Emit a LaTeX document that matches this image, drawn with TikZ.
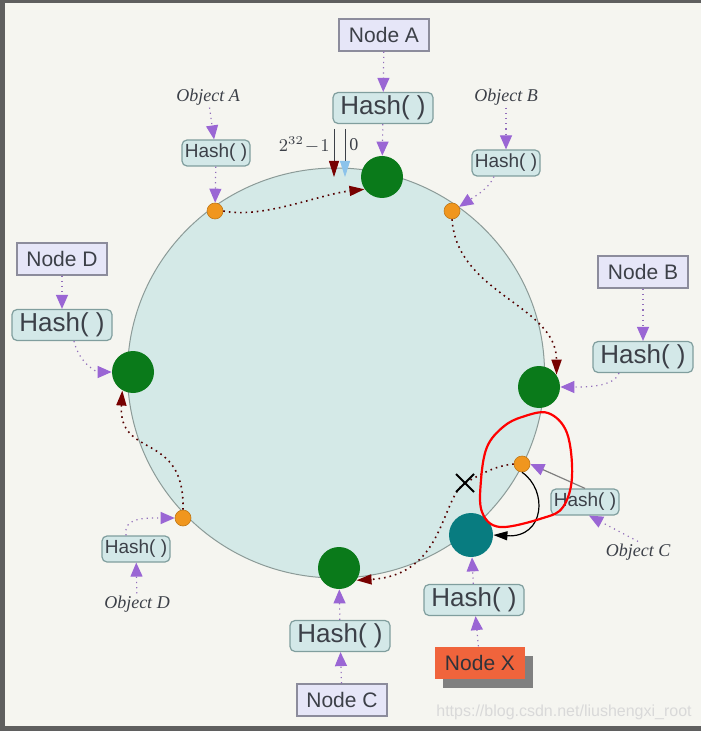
\documentclass[tikz,border=0pt]{standalone}
\usepackage{fontspec}
\setmainfont{Liberation Sans}
\newfontfamily\objfont{Liberation Serif}
\usetikzlibrary{arrows.meta, positioning, shadows, shapes.geometric}
\definecolor{bgpaper}{RGB}{245,245,240}
\definecolor{frameGray}{RGB}{95,95,95}
\definecolor{ringfill}{RGB}{212,233,231}
\definecolor{ringdraw}{RGB}{140,155,152}
\definecolor{nodefill}{RGB}{230,230,248}
\definecolor{nodedraw}{RGB}{140,140,156}
\definecolor{hashfill}{RGB}{211,232,232}
\definecolor{hashdraw}{RGB}{128,158,158}
\definecolor{textgray}{RGB}{60,64,72}
\definecolor{peergreen}{RGB}{10,122,26}
\definecolor{newteal}{RGB}{8,124,128}
\definecolor{objorange}{RGB}{240,150,30}
\definecolor{arrowpurple}{RGB}{154,102,212}
\definecolor{ringred}{RGB}{120,0,0}
\definecolor{nodexred}{RGB}{240,100,60}
\definecolor{zeroblue}{RGB}{140,195,235}

\begin{document}
\begin{tikzpicture}[x=0.5pt, y=-0.5pt,
		nodebox/.style={draw=nodedraw, fill=nodefill, line width=0.6pt, text=textgray,
			font=\fontsize{10.5}{12}\selectfont, minimum width=45pt, minimum height=16pt, inner sep=0pt},
		hashbig/.style={draw=hashdraw, fill=hashfill, rounded corners=2.5pt, line width=0.6pt,
			text=textgray, font=\fontsize{13}{15}\selectfont, minimum width=50pt,
			minimum height=15.5pt, inner sep=0pt},
		hashsmall/.style={hashbig, font=\fontsize{9.5}{11}\selectfont, minimum width=34pt,
			minimum height=13pt},
		objlabel/.style={font=\objfont\itshape\fontsize{9}{11}\selectfont, text=textgray, inner sep=1pt},
		peer/.style={circle, fill=peergreen, minimum size=21pt, inner sep=0pt},
		key/.style={circle, fill=objorange, draw=objorange!80!black, line width=0.3pt,
			minimum size=8pt, inner sep=0pt},
		hasharrow/.style={-{Triangle[length=7pt, width=6pt, color=arrowpurple]},
			draw=arrowpurple!70!gray, dotted, line width=0.6pt},
		hashsolid/.style={-{Triangle[length=7pt, width=6pt, color=arrowpurple]},
			draw=gray, line width=0.6pt},
		ringarrow/.style={-{Triangle[length=7.5pt, width=5pt, color=ringred]},
			draw=ringred!70!black, dotted, line width=0.8pt}]
	%--- paper and frame ---
	\fill[frameGray] (0,0) rectangle (701,731);
	\fill[bgpaper] (5,3) rectangle (701,726);
	%--- the hash ring ---
	\node[ellipse, draw=ringdraw, fill=ringfill, line width=0.5pt, minimum width=208.5pt,
		minimum height=205pt, inner sep=0pt] (ring) at (336,373) {};
	%--- nodes A, B, C, D and X ---
	\node[nodebox] (nA) at (384,35) {Node A};
	\node[hashbig] (hA) at (383,108) {Hash( )};
	\node[peer] (gA) at (382,177) {};
	\node[nodebox] (nB) at (643,272) {Node B};
	\node[hashbig] (hB) at (643,357) {Hash( )};
	\node[peer] (gB) at (539,387) {};
	\node[nodebox] (nC) at (342,700) {Node C};
	\node[hashbig] (hC) at (340,636) {Hash( )};
	\node[peer] (gC) at (339,568) {};
	\node[nodebox] (nD) at (62,259) {Node D};
	\node[hashbig] (hD) at (62,325) {Hash( )};
	\node[peer] (gD) at (133,372) {};
	\node[nodebox, draw=none, fill=nodexred, text=textgray!80!black,
		drop shadow={shadow xshift=4pt, shadow yshift=-4.5pt, fill=gray, opacity=1}]
		(nX) at (480,663) {Node X};
	\node[hashbig] (hX) at (474,600) {Hash( )};
	\node[peer, fill=newteal, minimum size=22pt] (tX) at (471,535) {};
	%--- objects A, B, C and D ---
	\node[objlabel] (objA) at (208,97) {Object A};
	\node[hashsmall] (hAs) at (216,153) {Hash( )};
	\node[key] (oA) at (215,211) {};
	\node[objlabel] (objB) at (506,97) {Object B};
	\node[hashsmall] (hBs) at (506,163) {Hash( )};
	\node[key] (oB) at (452,211) {};
	\node[objlabel] (objC) at (638,552) {Object C};
	\node[hashsmall] (hCs) at (585,502) {Hash( )};
	\node[key] (oC) at (522,464) {};
	\node[objlabel] (objD) at (137,604) {Object D};
	\node[hashsmall] (hDs) at (136,549) {Hash( )};
	\node[key] (oD) at (183,518) {};
	%--- start of the ring: 2^32-1 and 0 ---
	\coordinate (maxTop) at (334,129);
	\coordinate (maxTip) at (334,177);
	\coordinate (zeroTop) at (345,129);
	\coordinate (zeroTip) at (345,177);
	\draw[-{Triangle[length=8pt, width=5pt, color=ringred]}, textgray, line width=0.4pt]
		(maxTop) -- (maxTip);
	\draw[-{Triangle[length=8pt, width=5pt, color=zeroblue]}, textgray, line width=0.4pt]
		(zeroTop) -- (zeroTip);
	\node[anchor=east, text=textgray, inner sep=0pt, font=\fontsize{9}{11}\selectfont]
		(maxLbl) at (330,145) {$2^{32}\!-\!1$};
	\node[anchor=west, text=textgray, inner sep=0pt, font=\objfont\fontsize{9}{11}\selectfont]
		(zeroLbl) at (349,145) {0};
	%--- hashing arrows ---
	\draw[hasharrow] (nA) -- (hA);
	\draw[hasharrow] (hA) -- (gA);
	\draw[hasharrow] (nB) -- (hB);
	\draw[hasharrow] ([xshift=-12pt]hB.south) .. controls +(-5,14) and +(25,0) .. (gB.east);
	\draw[hasharrow] (nC) -- (hC);
	\draw[hasharrow] (hC) -- (gC);
	\draw[hasharrow] (nD) -- (hD);
	\draw[hasharrow] ([xshift=6pt]hD.south) .. controls +(5,22) and +(-15,0) .. (gD.west);
	\draw[hasharrow] (nX) -- (hX);
	\draw[hasharrow] (hX) -- (tX);
	\draw[hasharrow] (objA) -- (hAs);
	\draw[hasharrow] (hAs) -- (oA);
	\draw[hasharrow] (objB) -- (hBs);
	\draw[hasharrow] ([xshift=-6pt]hBs.south) .. controls +(-5,12) and +(15,-10) .. (oB.30);
	\draw[hasharrow] (objC.north) -- ([xshift=2pt]hCs.south);
	\draw[hashsolid] (hCs.north) -- (oC.east);
	\draw[hasharrow] (objD) -- (hDs);
	\draw[hasharrow] ([xshift=-5pt]hDs.north) .. controls +(-3,-18) and +(-30,0) .. (oD.west);
	%--- clockwise walk to the next node ---
	\draw[ringarrow] (oA.east) .. controls +(40,8) and +(-45,5) .. (gA.215);
	\draw[ringarrow] (oB.south) .. controls +(5,75) and +(0,-70) .. (gB.35);
	\draw[ringarrow] (oD.north) .. controls (185,430) and (118,460) .. (gD.240);
	\coordinate (xm) at (465,483);
	\draw[ringarrow, -] (oC.west) .. controls +(-20,2) and +(15,-8) .. (xm);
	\draw[ringarrow] (xm) .. controls (440,500) and (445,575) .. (gC.-35);
	\draw[line width=1pt] ([shift={(-9,-9)}]xm) -- ([shift={(9,9)}]xm);
	\draw[line width=1pt] ([shift={(-9,9)}]xm) -- ([shift={(9,-9)}]xm);
	% object C now goes to node X
	\draw[-{Triangle[length=7pt, width=4.5pt]}, line width=0.6pt]
		(oC.south) .. controls (548,490) and (545,538) .. (tX.east);
	\draw[red, line width=1.1pt] plot[smooth cycle, tension=0.6] coordinates {(548,413)
		(567,433) (572,477) (563,507) (543,518) (500,527) (482,512) (481,480) (487,447)
		(503,427) (522,417)};
	%--- watermark ---
	\node[text=black!15, font=\fontsize{8}{10}\selectfont] (wm) at (564,712)
		{https://blog.csdn.net/liushengxi\_root};
\end{tikzpicture}
\end{document}
